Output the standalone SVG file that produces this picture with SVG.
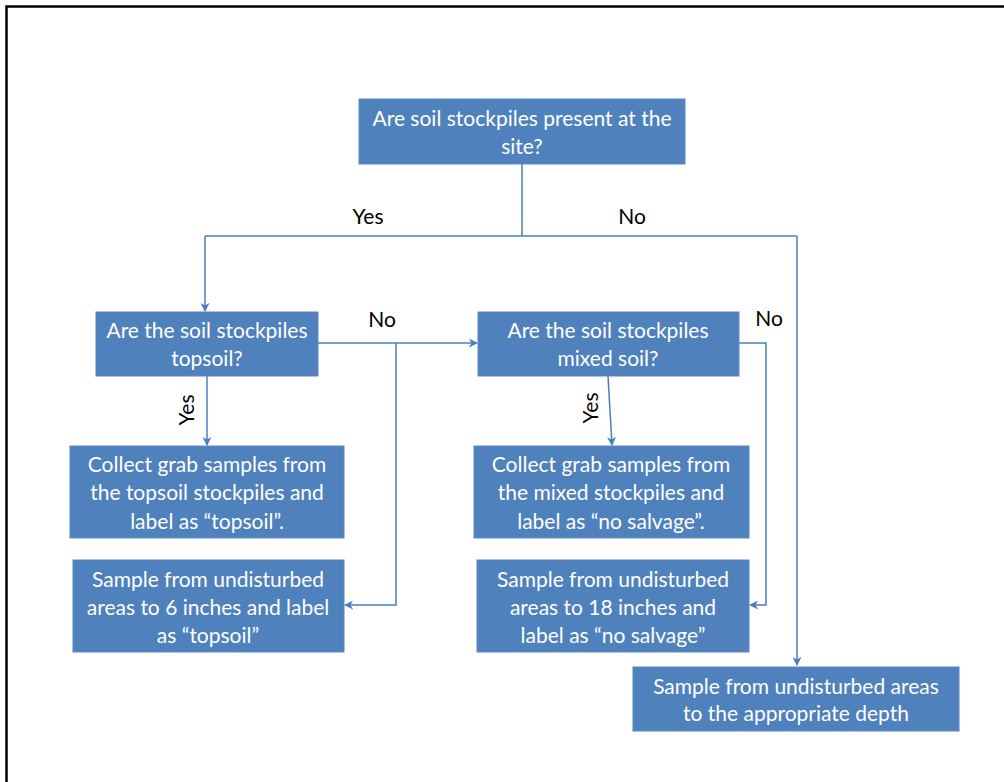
<svg xmlns="http://www.w3.org/2000/svg" width="1004" height="782" viewBox="0 0 1004 782">
<style>
.box{fill:#4F81BD;stroke:#5B8AC4;stroke-width:1}
.t{font-family:Lato,"Liberation Sans",sans-serif;font-size:21px;fill:#FFFFFF;text-anchor:middle}
.lbl{font-family:Lato,"Liberation Sans",sans-serif;font-size:21px;fill:#000000;text-anchor:middle}
.c{fill:none;stroke:#4A7EBB;stroke-width:1.5}
</style>
<defs>
<marker id="ah" viewBox="0 0 10 10" refX="9" refY="5" markerWidth="9" markerHeight="9" markerUnits="userSpaceOnUse" orient="auto">
<path d="M0,0 L10,5 L0,10 L3,5 Z" fill="#4A7EBB"/>
</marker>
</defs>
<rect width="1004" height="782" fill="#FFFFFF"/>
<path d="M6.5,782 V6.5 H1004" fill="none" stroke="#000000" stroke-width="2.5"/>
<g id="connectors">
<path class="c" d="M522,164 V236"/>
<path class="c" d="M205,236 H797"/>
<path class="c" d="M205,236 V311" marker-end="url(#ah)"/>
<path class="c" d="M797,236 V665" marker-end="url(#ah)"/>
<path class="c" d="M207,376 V445" marker-end="url(#ah)"/>
<path class="c" d="M318,343 H477" marker-end="url(#ah)"/>
<path class="c" d="M396,343 V605 H345" marker-end="url(#ah)"/>
<path class="c" d="M608,376 L612,445" marker-end="url(#ah)"/>
<path class="c" d="M739,343 H766 V605 H750" marker-end="url(#ah)"/>
<text class="lbl" x="368" y="224">Yes</text>
<text class="lbl" x="632" y="224">No</text>
<text class="lbl" x="382" y="327">No</text>
<text class="lbl" x="769" y="326">No</text>
<text class="lbl" transform="translate(194,410) rotate(-90)">Yes</text>
<text class="lbl" transform="translate(598,408) rotate(-90)">Yes</text>
</g>
<g id="q1">
<rect class="box" x="359" y="99" width="326" height="65"/>
<text class="t" x="522" y="126">Are soil stockpiles present at the</text>
<text class="t" x="522" y="154">site?</text>
</g>
<g id="q2">
<rect class="box" x="96" y="312" width="222" height="64"/>
<text class="t" x="207" y="338">Are the soil stockpiles</text>
<text class="t" x="207" y="366">topsoil?</text>
</g>
<g id="q3">
<rect class="box" x="478" y="312" width="261" height="64"/>
<text class="t" x="608" y="338">Are the soil stockpiles</text>
<text class="t" x="608" y="366">mixed soil?</text>
</g>
<g id="a1">
<rect class="box" x="70" y="446" width="274" height="92"/>
<text class="t" x="207" y="472">Collect grab samples from</text>
<text class="t" x="207" y="500">the topsoil stockpiles and</text>
<text class="t" x="207" y="529">label as “topsoil”.</text>
</g>
<g id="a2">
<rect class="box" x="73" y="560" width="271" height="92"/>
<text class="t" x="208" y="587">Sample from undisturbed</text>
<text class="t" x="208" y="615">areas to 6 inches and label</text>
<text class="t" x="208" y="643">as “topsoil”</text>
</g>
<g id="a3">
<rect class="box" x="474" y="446" width="275" height="92"/>
<text class="t" x="611" y="472">Collect grab samples from</text>
<text class="t" x="611" y="500">the mixed stockpiles and</text>
<text class="t" x="611" y="529">label as “no salvage”.</text>
</g>
<g id="a4">
<rect class="box" x="477" y="560" width="272" height="92"/>
<text class="t" x="613" y="587">Sample from undisturbed</text>
<text class="t" x="613" y="615">areas to 18 inches and</text>
<text class="t" x="613" y="643">label as “no salvage”</text>
</g>
<g id="a5">
<rect class="box" x="633" y="667" width="326" height="64"/>
<text class="t" x="796" y="694">Sample from undisturbed areas</text>
<text class="t" x="796" y="721">to the appropriate depth</text>
</g>
</svg>
